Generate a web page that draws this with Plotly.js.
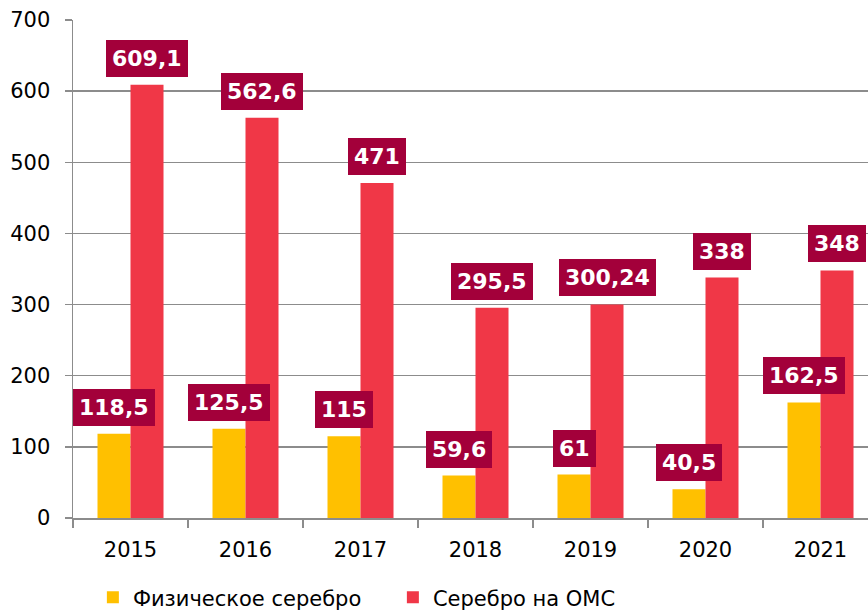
<!DOCTYPE html>
<html>
<head>
<meta charset="utf-8">
<script src="https://cdn.plot.ly/plotly-3.0.1.min.js"></script>
<style>html,body{margin:0;padding:0;background:#fff;}#chart{width:868px;height:611px;}</style>
</head>
<body>
<div id="chart"></div>
<script>
const years = ['2015', '2016', '2017', '2018', '2019', '2020', '2021'];
const physicalSilver = [118.5, 125.5, 115, 59.6, 61, 40.5, 162.5];
const omsSilver = [609.1, 562.6, 471, 295.5, 300.24, 338, 348];
const seriesNames = ['Физическое серебро', 'Серебро на ОМС'];
const yTicks = [0, 100, 200, 300, 400, 500, 600, 700];

const bargap = 0.426;
const half = (1 - bargap) / 4;
const fmt = v => String(v).replace('.', ',');

const traces = [
  {type: 'bar', name: seriesNames[0], x: years, y: physicalSilver,
   marker: {color: '#FFC000'}, hoverinfo: 'none'},
  {type: 'bar', name: seriesNames[1], x: years, y: omsSilver,
   marker: {color: '#F03747'}, hoverinfo: 'none'}
];

const annotations = [];
[physicalSilver, omsSilver].forEach((arr, s) => {
  arr.forEach((v, i) => {
    annotations.push({
      x: i + (s === 0 ? -half : half), y: v, xref: 'x', yref: 'y',
      text: fmt(v), showarrow: false, yanchor: 'bottom', xanchor: 'center',
      yshift: 8, bgcolor: '#A3003A', borderpad: 6, borderwidth: 0,
      font: {family: 'DejaVu Sans', size: 22, color: '#ffffff', weight: 'bold'}
    });
  });
});

const layout = {
  width: 868, height: 611,
  margin: {l: 73, r: 0, t: 20, b: 93, pad: 0, autoexpand: false},
  paper_bgcolor: '#ffffff', plot_bgcolor: '#ffffff',
  barmode: 'group', bargap: bargap, bargroupgap: 0,
  font: {family: 'DejaVu Sans', size: 21, color: '#000000'},
  xaxis: {
    type: 'category', range: [-0.5, 6.413], fixedrange: true,
    showline: true, linecolor: '#8c8c8c', linewidth: 1.5,
    ticks: 'outside', tickson: 'boundaries', ticklen: 8, tickcolor: '#8c8c8c', tickwidth: 1.5,
    showgrid: false, tickfont: {size: 21, family: 'DejaVu Sans', color: '#000'},
    ticklabelstandoff: 12, automargin: false
  },
  yaxis: {
    range: [0, 700], tickvals: yTicks, ticktext: yTicks.map(String),
    showline: true, linecolor: '#8c8c8c', linewidth: 1.5,
    ticks: 'outside', ticklen: 7, tickcolor: '#8c8c8c', tickwidth: 1.5,
    showgrid: true, gridcolor: '#8c8c8c', gridwidth: 1.5, zeroline: false,
    tickfont: {size: 21, family: 'DejaVu Sans', color: '#000'},
    ticklabelstandoff: 10, automargin: false, fixedrange: true
  },
  legend: {
    orientation: 'h', x: 0.025, xanchor: 'left', y: -0.16, yanchor: 'middle',
    font: {size: 21, family: 'DejaVu Sans', color: '#000'}, itemwidth: 30,
    traceorder: 'normal', entrywidth: 255
  },
  annotations: annotations,
  showlegend: true
};

Plotly.newPlot('chart', traces, layout, {displayModeBar: false, staticPlot: true});
</script>
</body>
</html>
